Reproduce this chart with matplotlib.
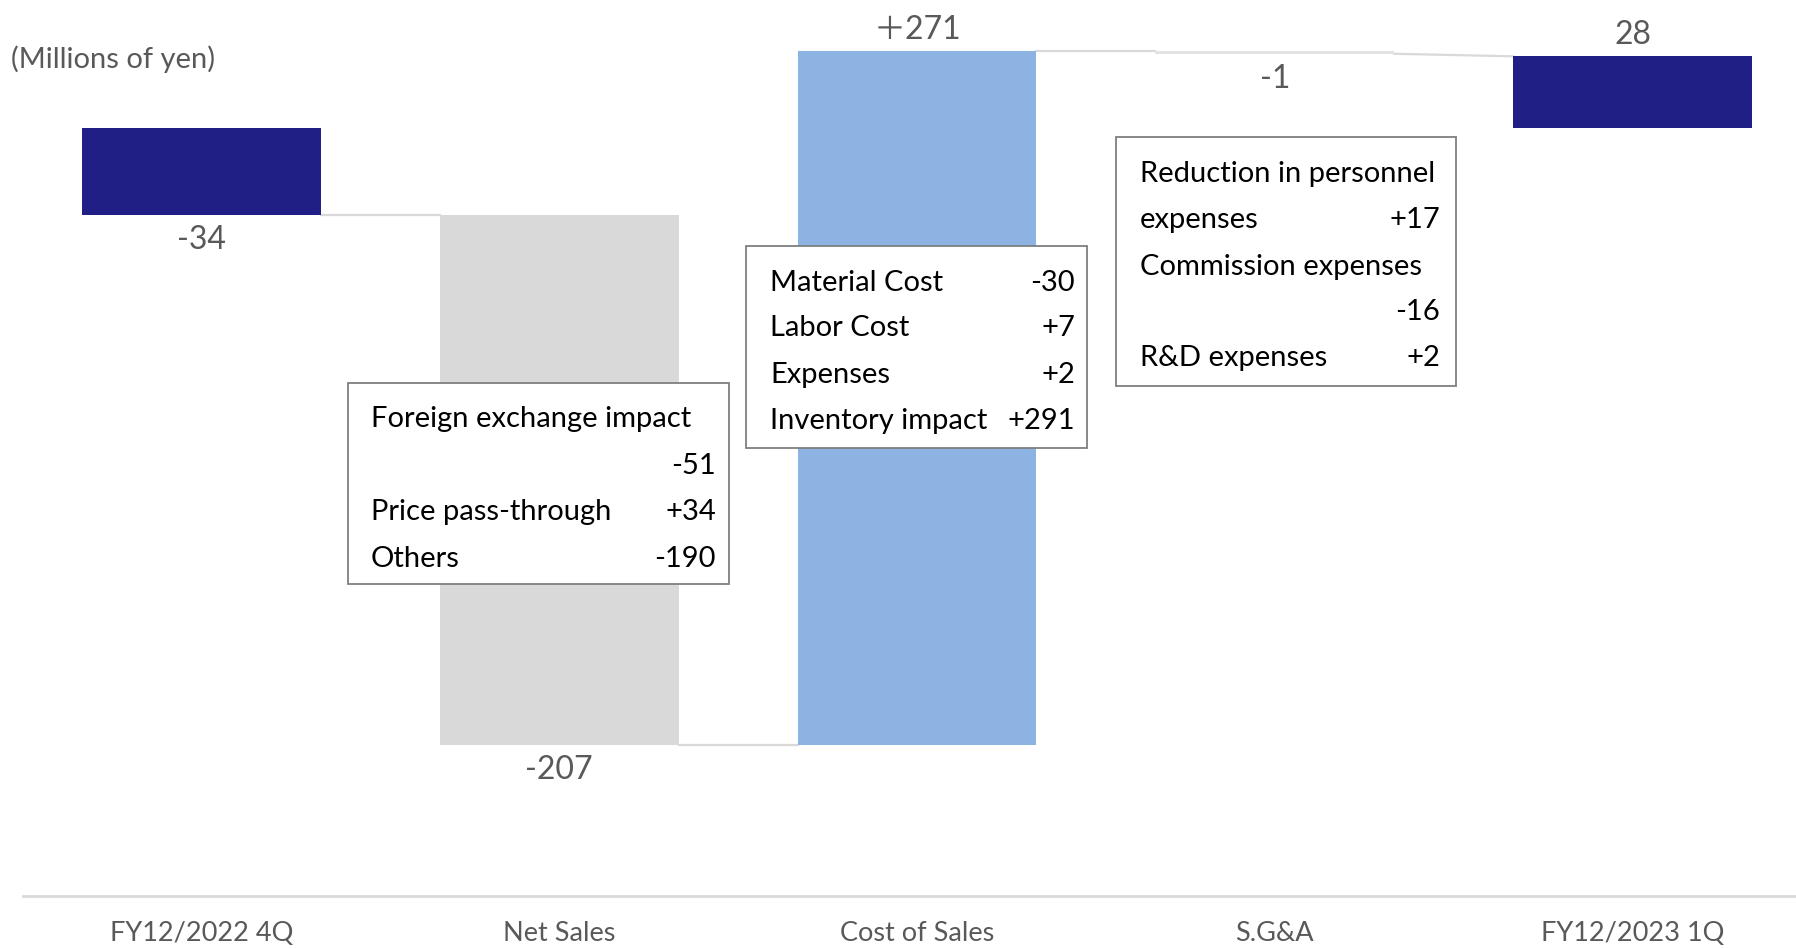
import matplotlib.pyplot as plt
from matplotlib.patches import Rectangle

plt.rcParams['font.family'] = ['Lato', 'Noto Sans CJK JP', 'DejaVu Sans']

categories = ["FY12/2022 4Q", "Net Sales", "Cost of Sales", "S.G&A", "FY12/2023 1Q"]
changes = [-34, -207, 271, -1, 28]
is_total = [True, False, False, False, True]
value_labels = ["-34", "-207", "＋271", "-1", "28"]
bar_colors = ["#1f1f86", "#d9d9d9", "#8db3e2", "#e3e3e3", "#1f1f86"]

# breakdown boxes
sales_items = [("Foreign exchange impact", ""), ("", "-51"),
               ("Price pass-through", "+34"), ("Others", "-190")]
cost_items = [("Material Cost", "-30"), ("Labor Cost", "+7"),
              ("Expenses", "+2"), ("Inventory impact", "+291")]
sga_items = [("Reduction in personnel", ""), ("expenses", "+17"),
             ("Commission expenses", ""), ("", "-16"), ("R&D expenses", "+2")]

W, H = 1796, 948
fig = plt.figure(figsize=(W / 100, H / 100), dpi=100)
ax = fig.add_axes([22.7 / W, 52 / H, 1 - 22.7 / W, 1 - 52 / H])

# waterfall bottoms
bottoms = []
ends = []
run = 0
for c, tot in zip(changes, is_total):
    if tot:
        bottoms.append(0)
        run = c
    else:
        bottoms.append(run)
        run = run + c
    ends.append(run)

xs = list(range(len(categories)))
bw = 0.667
ax.bar(xs, changes, bottom=bottoms, width=bw, color=bar_colors, zorder=2)

# connector lines
for i in range(len(xs) - 1):
    y0 = ends[i]
    if is_total[i + 1]:
        y1 = changes[i + 1]
    else:
        y1 = bottoms[i + 1]
    ax.plot([i + bw / 2, i + 1 - bw / 2], [y0, y1], color="#d9d9d9", lw=1.6, zorder=1)

# value labels
for i, (c, lab) in enumerate(zip(changes, value_labels)):
    top = bottoms[i] + c
    off = -18 if c < 0 else 15
    ax.annotate(lab, (i, top), xytext=(0, off), textcoords="offset points",
                ha="center", va="center", fontsize=23, color="#595959")

ax.set_xlim(-0.5, 4.457)
ax.set_ylim(-300, 50)
ax.set_xticks(xs)
ax.set_xticklabels(categories, fontsize=19.5, color="#595959")
ax.tick_params(axis="x", length=0, pad=18)
ax.set_yticks([])
for s in ["top", "left", "right"]:
    ax.spines[s].set_visible(False)
ax.spines["bottom"].set_color("#d9d9d9")
ax.spines["bottom"].set_linewidth(2)

fig.text(11 / W, 1 - 59 / H, "(Millions of yen)", fontsize=21, color="#595959",
         ha="left", va="center")


def draw_box(x0, y0, x1, y1, left, right, rows, items):
    fig.add_artist(Rectangle((x0 / W, 1 - y1 / H), (x1 - x0) / W, (y1 - y0) / H,
                             transform=fig.transFigure, facecolor="white",
                             edgecolor="#7f7f7f", lw=1.3, zorder=5))
    for y, (name, val) in zip(rows, items):
        if name:
            fig.text(left / W, 1 - y / H, name, fontsize=21, color="black",
                     ha="left", va="center", zorder=6)
        if val:
            fig.text(right / W, 1 - y / H, val, fontsize=21, color="black",
                     ha="right", va="center", zorder=6)


draw_box(348, 383, 729, 584, 371, 716, [419, 466, 512, 559], sales_items)
draw_box(746, 246, 1087, 448, 770, 1075, [283, 328, 375, 421], cost_items)
draw_box(1116, 137, 1456, 386, 1140, 1440, [174, 220, 267, 312, 358], sga_items)

fig.savefig("out.png", dpi=100)
